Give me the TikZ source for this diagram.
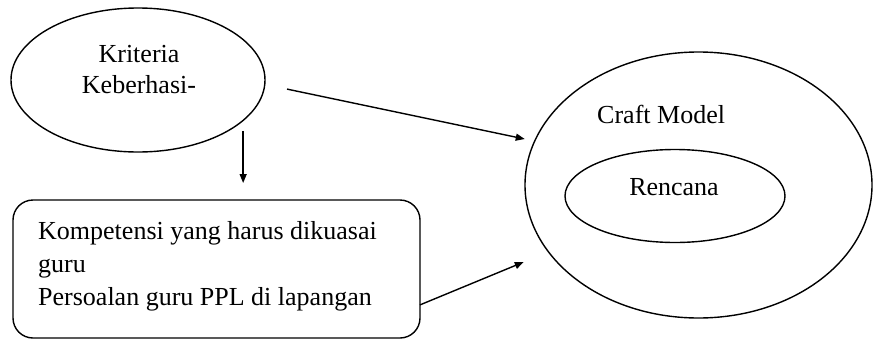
\documentclass[tikz,border=0pt]{standalone}
\usepackage{fontspec}
\setmainfont{Liberation Serif}
\usetikzlibrary{shapes.geometric,arrows.meta,calc}
\begin{document}
\begin{tikzpicture}[x=1pt,y=-1pt,
  shapeline/.style={draw, line width=1.4pt, inner sep=0pt, outer sep=0pt},
  oval/.style={shapeline, ellipse},
  lbl/.style={font=\fontsize{26}{33}\selectfont, inner sep=0pt},
  conn/.style={line width=1.4pt, -{Triangle[length=9pt,width=7pt]}}]
\useasboundingbox (0,0) rectangle (873,343);
% shapes
\node[oval, minimum width=254pt, minimum height=144pt] (k) at (138,80) {};
\node[oval, minimum width=347pt, minimum height=266pt] (c) at (698.5,185) {};
\node[oval, minimum width=220pt, minimum height=93pt] (r) at (675,196) {};
\node[shapeline, rectangle, rounded corners=20pt, minimum width=407pt, minimum height=138pt] (b) at (216.5,269) {};
% texts
\node[lbl, font=\fontsize{26}{31}\selectfont, align=center, anchor=base] (kt) at (139,93) {Kriteria\\Keberhasi-};
\node[lbl, anchor=base west] (ct) at (597,123) {Craft Model};
\node[lbl, anchor=base] (rt) at (674,195) {Rencana};
\node[lbl, align=left, anchor=base west] (bt) at (38,305) {Kompetensi yang harus dikuasai\\guru\\Persoalan guru PPL di lapangan};
% connectors
\draw[conn, shorten <=22.8pt, shorten >=10.2pt] (k.-2.35) -- (c.165.7);
\draw[conn, shorten <=10.5pt, shorten >=17pt] (k.-21.1) -- (k.-21.1 |- b.north);
\draw[conn, shorten >=26.7pt] (b.-10.03) -- (c.-156.55);
\end{tikzpicture}
\end{document}
